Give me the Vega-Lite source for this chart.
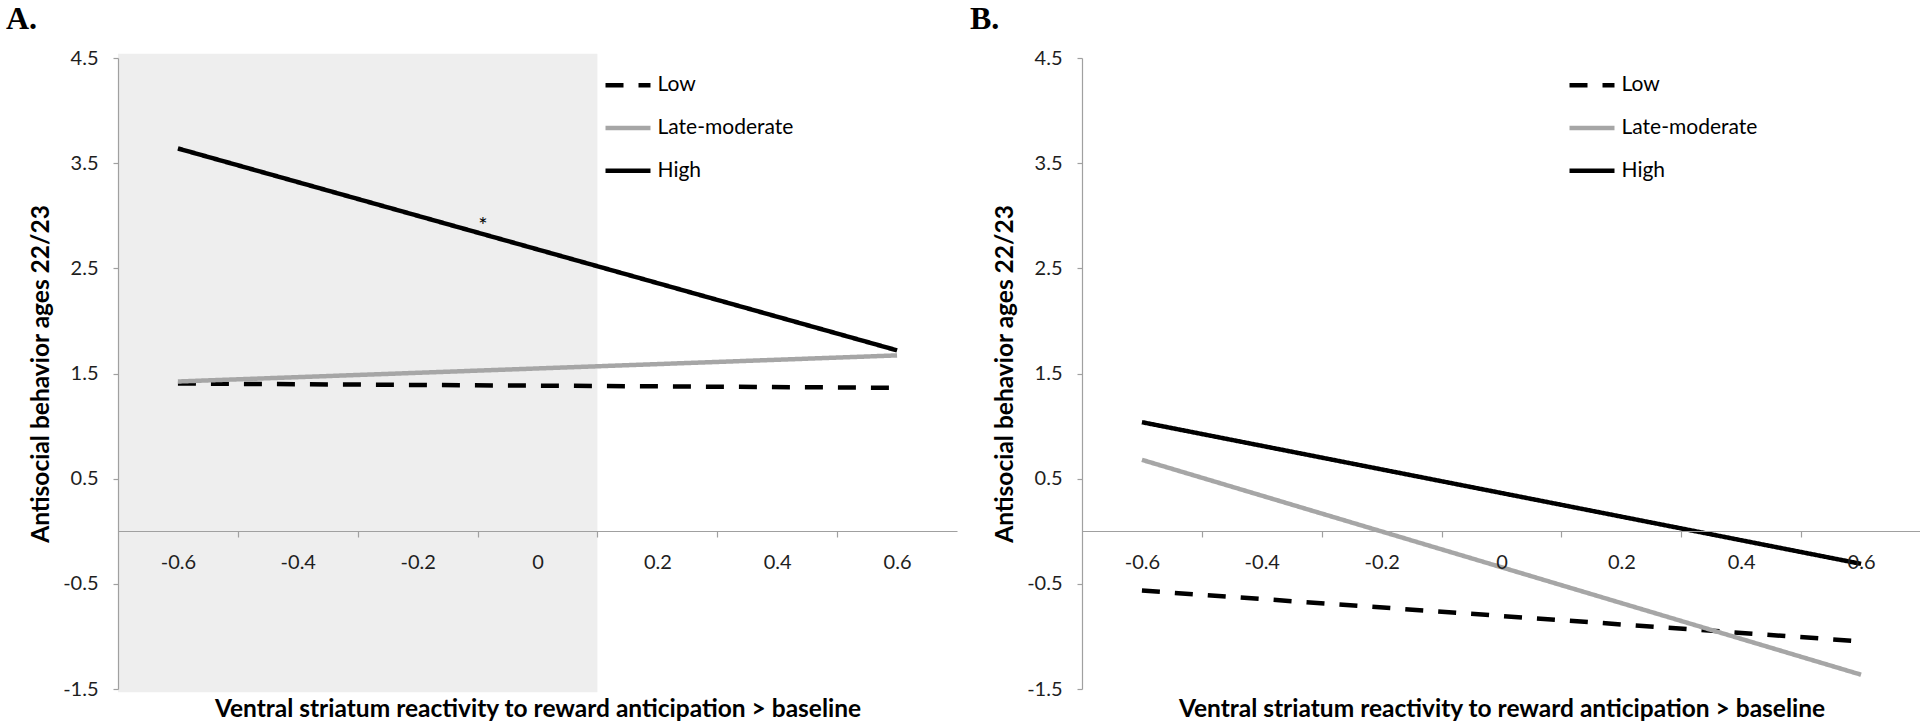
{
  "$schema": "https://vega.github.io/schema/vega-lite/v6.json",
  "autosize": {"type": "pad"},
  "padding": {"left": 6, "top": 3, "right": 0, "bottom": 0},
  "background": "white",
  "bounds": "flush",
  "spacing": 125,
  "config": {
    "view": {"stroke": null},
    "font": "Lato",
    "axis": {
      "grid": false,
      "domainColor": "#a0a0a0",
      "tickColor": "#a0a0a0",
      "domainWidth": 1.2,
      "tickWidth": 1.2,
      "labelFont": "Lato",
      "labelFontSize": 20,
      "labelColor": "#1e1e1e",
      "titleFont": "Lato",
      "titleFontSize": 24.5,
      "titleFontWeight": "bold",
      "titleColor": "#000000"
    }
  },
  "datasets": {
    "shadeA": [{"x": -0.7, "x_end": 0.1, "y": -1.53, "y_end": 4.54}],
    "starA": [{"x": -0.091, "y": 2.84, "label": "*"}],
    "linesA": [
      {"x": -0.6, "y": 1.405, "group": "Low"},
      {"x": 0.6, "y": 1.364, "group": "Low"},
      {"x": -0.6, "y": 1.424, "group": "Late-moderate"},
      {"x": 0.6, "y": 1.672, "group": "Late-moderate"},
      {"x": -0.6, "y": 3.64, "group": "High"},
      {"x": 0.6, "y": 1.72, "group": "High"}
    ],
    "linesB": [
      {"x": -0.6, "y": -0.564, "group": "Low"},
      {"x": 0.6, "y": -1.047, "group": "Low"},
      {"x": -0.6, "y": 0.679, "group": "Late-moderate"},
      {"x": 0.6, "y": -1.364, "group": "Late-moderate"},
      {"x": -0.6, "y": 1.037, "group": "High"},
      {"x": 0.6, "y": -0.31, "group": "High"}
    ]
  },
  "resolve": {
    "scale": {"color": "independent", "strokeDash": "independent"},
    "legend": {"color": "independent", "strokeDash": "independent"}
  },
  "hconcat": [
    {
      "width": 839,
      "height": 631,
      "title": {"text": "A.", "anchor": "start", "frame": "group", "dx": -112, "dy": 43, "offset": 30, "baseline": "alphabetic", "font": "Liberation Serif", "fontSize": 32, "fontWeight": "bold", "color": "#000000"},
      "encoding": {
        "x": {"field": "x", "type": "quantitative", "scale": {"domain": [-0.7, 0.7], "nice": false, "zero": false},
          "axis": {"title": "Ventral striatum reactivity to reward anticipation > baseline", "zindex": 2, "values": [-0.6, -0.5, -0.4, -0.3, -0.2, -0.1, 0, 0.1, 0.2, 0.3, 0.4, 0.5, 0.6], "offset": -158, "tickSize": 6, "labelPadding": 15, "labelOverlap": false, "labelFlush": false,
            "labelExpr": "abs(round(datum.value*10)) % 2 == 0 ? (datum.value == 0 ? '0' : replace(format(datum.value, '.1f'), '−', '-')) : ''",
            "tickOpacity": {"condition": {"test": "abs(round(datum.value*10)) % 2 == 0", "value": 0}, "value": 1},
            "titleY": 178, "titleBaseline": "middle"}},
        "y": {"field": "y", "type": "quantitative", "scale": {"domain": [-1.5, 4.5], "nice": false, "zero": false},
          "axis": {"title": "Antisocial behavior ages 22/23", "zindex": 2, "values": [-1.5, -0.5, 0.5, 1.5, 2.5, 3.5, 4.5], "tickSize": 5, "labelPadding": 15, "labelOverlap": false, "labelFlush": false,
            "labelExpr": "replace(format(datum.value, '.1f'), '−', '-')",
            "titleX": -77, "titleY": 315.5, "titleAngle": -90, "titleBaseline": "middle", "titleAlign": "center"}}
      },
      "layer": [
        {"data": {"name": "shadeA"}, "mark": {"type": "rect", "color": "#eeeeee"}, "encoding": {"x2": {"field": "x_end"}, "y2": {"field": "y_end"}}},
        {"data": {"name": "linesA"}, "mark": {"type": "line", "strokeWidth": 4.5},
          "encoding": {
            "color": {"field": "group", "type": "nominal", "sort": ["Low", "Late-moderate", "High"], "scale": {"domain": ["Low", "Late-moderate", "High"], "range": ["#000000", "#a6a6a6", "#000000"]},
              "legend": {"title": null, "orient": "none", "legendX": 496.5, "legendY": 13.75, "padding": 0, "rowPadding": 18.8, "symbolType": "M-2,0H2", "symbolSize": 506, "symbolStrokeWidth": 4.5, "labelOffset": 16, "labelFontSize": 21, "labelFont": "Lato", "labelColor": "#000000"}},
            "strokeDash": {"field": "group", "type": "nominal", "sort": ["Low", "Late-moderate", "High"], "scale": {"domain": ["Low", "Late-moderate", "High"], "range": [[18, 15], [1, 0], [1, 0]]},
              "legend": {"title": null, "orient": "none", "legendX": 496.5, "legendY": 13.75, "padding": 0, "rowPadding": 18.8, "symbolType": "M-2,0H2", "symbolSize": 506, "symbolStrokeWidth": 4.5, "labelOffset": 16, "labelFontSize": 21, "labelFont": "Lato", "labelColor": "#000000"}}
          }},
        {"data": {"name": "starA"}, "mark": {"type": "text", "fontSize": 22, "baseline": "alphabetic", "font": "Lato", "color": "#000000"}, "encoding": {"text": {"field": "label"}}}
      ]
    },
    {
      "width": 839,
      "height": 631,
      "title": {"text": "B.", "anchor": "start", "frame": "group", "dx": -112, "dy": 43, "offset": 30, "baseline": "alphabetic", "font": "Liberation Serif", "fontSize": 32, "fontWeight": "bold", "color": "#000000"},
      "encoding": {
        "x": {"field": "x", "type": "quantitative", "scale": {"domain": [-0.7, 0.7], "nice": false, "zero": false},
          "axis": {"title": "Ventral striatum reactivity to reward anticipation > baseline", "zindex": 2, "values": [-0.6, -0.5, -0.4, -0.3, -0.2, -0.1, 0, 0.1, 0.2, 0.3, 0.4, 0.5, 0.6], "offset": -158, "tickSize": 6, "labelPadding": 15, "labelOverlap": false, "labelFlush": false,
            "labelExpr": "abs(round(datum.value*10)) % 2 == 0 ? (datum.value == 0 ? '0' : replace(format(datum.value, '.1f'), '−', '-')) : ''",
            "tickOpacity": {"condition": {"test": "abs(round(datum.value*10)) % 2 == 0", "value": 0}, "value": 1},
            "titleY": 178, "titleBaseline": "middle"}},
        "y": {"field": "y", "type": "quantitative", "scale": {"domain": [-1.5, 4.5], "nice": false, "zero": false},
          "axis": {"title": "Antisocial behavior ages 22/23", "zindex": 2, "values": [-1.5, -0.5, 0.5, 1.5, 2.5, 3.5, 4.5], "tickSize": 5, "labelPadding": 15, "labelOverlap": false, "labelFlush": false,
            "labelExpr": "replace(format(datum.value, '.1f'), '−', '-')",
            "titleX": -77, "titleY": 315.5, "titleAngle": -90, "titleBaseline": "middle", "titleAlign": "center"}}
      },
      "layer": [
        {"data": {"name": "linesB"}, "mark": {"type": "line", "strokeWidth": 4.5},
          "encoding": {
            "color": {"field": "group", "type": "nominal", "sort": ["Low", "Late-moderate", "High"], "scale": {"domain": ["Low", "Late-moderate", "High"], "range": ["#000000", "#a6a6a6", "#000000"]},
              "legend": {"title": null, "orient": "none", "legendX": 496.5, "legendY": 13.75, "padding": 0, "rowPadding": 18.8, "symbolType": "M-2,0H2", "symbolSize": 506, "symbolStrokeWidth": 4.5, "labelOffset": 16, "labelFontSize": 21, "labelFont": "Lato", "labelColor": "#000000"}},
            "strokeDash": {"field": "group", "type": "nominal", "sort": ["Low", "Late-moderate", "High"], "scale": {"domain": ["Low", "Late-moderate", "High"], "range": [[18, 15], [1, 0], [1, 0]]},
              "legend": {"title": null, "orient": "none", "legendX": 496.5, "legendY": 13.75, "padding": 0, "rowPadding": 18.8, "symbolType": "M-2,0H2", "symbolSize": 506, "symbolStrokeWidth": 4.5, "labelOffset": 16, "labelFontSize": 21, "labelFont": "Lato", "labelColor": "#000000"}}
          }}
      ]
    }
  ]
}
